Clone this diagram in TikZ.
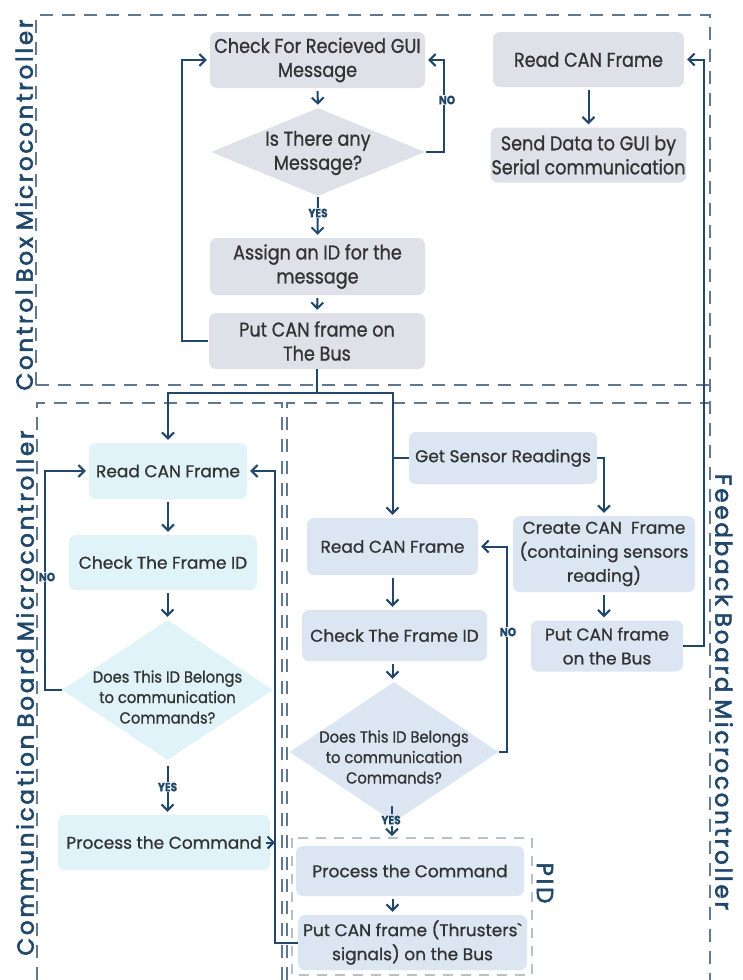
\documentclass[tikz,border=0pt]{standalone}
\usepackage{fontspec}
\setmainfont{Poppins}[FakeBold=0.9]
\newfontfamily\condf[FakeStretch=0.88,FakeBold=0.9]{Poppins}
\newfontfamily\dcondf[FakeStretch=0.92,FakeBold=0.9]{Poppins}
\newfontfamily\labf[LetterSpace=12,FakeBold=2.5]{Poppins}
\newcommand\wsp{\hspace{7pt}}
\usetikzlibrary{arrows.meta,shapes.geometric}
\definecolor{conn}{HTML}{21476B}
\definecolor{frm}{HTML}{61798F}
\definecolor{pidc}{HTML}{B8C1CA}
\definecolor{txt}{HTML}{333333}
\definecolor{cgray}{HTML}{DEE2E8}
\definecolor{ccyan}{HTML}{E0F3F8}
\definecolor{cblue}{HTML}{DBE6F2}
\begin{document}
\begin{tikzpicture}[x=1pt,y=-1pt,
  box/.style={rectangle, rounded corners=7pt, inner sep=1pt, align=center, text=txt},
  cbox/.style={box, fill=cgray, font=\condf\fontsize{20}{24}\selectfont},
  mbox/.style={box, fill=ccyan, font=\fontsize{17}{24}\selectfont},
  fbbox/.style={box, fill=cblue, font=\fontsize{17}{24}\selectfont},
  dia/.style={diamond, inner sep=0pt, aspect=1},
  dtxt/.style={align=center, text=txt, font=\dcondf\fontsize{16}{20.5}\selectfont},
  arr/.style={draw=conn, line width=2pt, -{Straight Barb[length=6pt,width=12pt]}, shorten >=3pt, shorten <=3pt},
  ln/.style={draw=conn, line width=2pt},
  yn/.style={text=conn, font=\condf\bfseries\fontsize{12}{12}\selectfont, fill=white, inner sep=1pt},
  frame/.style={draw=frm, line width=2.5pt, dash pattern=on 13pt off 9pt},
  pidframe/.style={draw=pidc, line width=2pt, dash pattern=on 10pt off 8pt},
  lab/.style={text=conn, inner sep=0pt, font=\labf\fontsize{23}{23}\selectfont}
]
\useasboundingbox (0,0) rectangle (742,980);

% frames
\draw[frame] (36,385) -- (36,15) -- (710,15) -- (710,980);
\draw[frame] (36,385) -- (710,385);
\draw[frame] (37,980) -- (37,403) -- (282,403) -- (282,980);
\draw[frame] (287,980) -- (287,403) -- (710,403);
\draw[pidframe] (292,838) rectangle (532,975);

% labels
\node[lab, rotate=90] (lcb) at (24,205) {Control\wsp Box\wsp Microcontroller};
\node[lab, rotate=90] (lcm) at (25,693) {Communication\wsp Board\wsp Microcontroller};
\node[lab, rotate=-90] (lfb) at (724,692) {Feedback\wsp Board\wsp Microcontroller};
\node[lab, rotate=-90] (lpid) at (545,883) {PID};

% control box
\node[cbox, minimum width=215, minimum height=56] (n1) at (317.5,60) {Check For Recieved GUI\\Message};
\node[dia, fill=cgray, minimum width=214, minimum height=88] (d1) at (318,152) {};
\node[dtxt, font=\condf\fontsize{20}{24}\selectfont] (d1t) at (318,153) {Is There any\\Message?};
\node[cbox, minimum width=215, minimum height=57] (n2) at (317.5,266.5) {Assign an ID for the\\message};
\node[cbox, minimum width=216, minimum height=56] (n3) at (317,341) {Put CAN frame on\\The Bus};
\node[cbox, minimum width=191, minimum height=55] (n4) at (588.5,59.5) {Read CAN Frame};
\node[cbox, minimum width=191, minimum height=55] (n5) at (588.5,155) {Send Data to GUI by\\Serial communication};

% communication board
\node[mbox, minimum width=158, minimum height=56] (c1) at (168,471) {Read CAN Frame};
\node[mbox, minimum width=188, minimum height=55] (c2) at (163,562.5) {Check The Frame ID};
\node[dia, fill=ccyan, minimum width=211, minimum height=140] (c3) at (167.5,690) {};
\node[dtxt] (c3t) at (167.5,697) {Does This ID Belongs\\to communication\\Commands?};
\node[mbox, minimum width=212, minimum height=55] (c4) at (164,842.5) {Process the Command};

% feedback board
\node[fbbox, minimum width=188, minimum height=52] (f0) at (503,458) {Get Sensor Readings};
\node[fbbox, minimum width=171, minimum height=57] (f1) at (392.5,546.5) {Read CAN Frame};
\node[fbbox, minimum width=185, minimum height=51] (f2) at (394.5,635.5) {Check The Frame ID};
\node[dia, fill=cblue, minimum width=209, minimum height=140] (f3) at (394,752) {};
\node[dtxt] (f3t) at (394,757) {Does This ID Belongs\\to communication\\Commands?};
\node[fbbox, minimum width=228, minimum height=50] (f4) at (410,871) {Process the Command};
\node[fbbox, minimum width=229, minimum height=55] (f5) at (412.5,942.5) {Put CAN frame (Thrusters\textasciigrave\\signals) on the Bus};
\node[fbbox, minimum width=182, minimum height=76] (f6) at (604,554) {Create CAN\ \ Frame\\(containing sensors\\reading)};
\node[fbbox, minimum width=152, minimum height=51] (f7) at (607,646) {Put CAN frame\\on the Bus};

\coordinate (vl) at (275,0);

% control box connectors
\draw[arr] (n1.south) -- (d1.north);
\draw[arr, shorten <=1pt] (d1.east) -- ++(19,0) |- (n1.east);
\node[yn] (no1) at (447,100) {NO};
\draw[arr, shorten <=1pt] (d1.south) -- (n2.north);
\node[yn] (yes1) at (318,213) {YES};
\draw[arr] (n2.south) -- (n3.north);
\draw[arr, shorten <=1pt] (n3.west) -- ++(-27,0) |- (n1.west);
\draw[arr] (n4.south) -- (n5.north);

% bus
\draw[arr, shorten <=0pt] (n3.south) -- ++(0,24) -| (c1.north);
\draw[arr, shorten <=0pt] (n3.south) -- ++(0,24) -| (f1.north);
\draw[ln] (f0.west) -- (f0.west -| f1.north);
\draw[arr, shorten <=0pt] (f0.east) -| (f6.north);
\draw[arr] (f6.south) -- (f6.south |- f7.north);
\draw[arr, shorten <=0pt] (f7.east) -- (704,646) |- (n4.east);

% communication connectors
\draw[arr] (c1.south) -- (c1.south |- c2.north);
\draw[arr] (c3.north |- c2.south) -- (c3.north);
\draw[arr, shorten <=0pt] (c3.west) -- ++(-17,0) |- (c1.west);
\node[yn] (no2) at (47,577) {NO};
\draw[arr, shorten <=6pt] (c3.south) -- (c3.south |- c4.north);
\node[yn] (yes2) at (167.5,787) {YES};
\draw[arr, shorten <=0pt, shorten >=0pt] ([xshift=-4pt]c4.east) -- (c4.east -| vl);
\draw[arr, shorten <=0pt] (f5.west) -- (f5.west -| vl) |- (c1.east);

% feedback connectors
\draw[arr] (f1.south) -- (f1.south |- f2.north);
\draw[arr] (f1.south |- f2.south) -- (f1.south |- f3.north);
\draw[arr, shorten <=0pt] (f3.east) -- ++(8,0) |- (f1.east);
\node[yn] (no3) at (508,632) {NO};
\draw[ln] (392,806) -- (392,814);
\node[yn, fill=none] (yes3) at (391,820) {YES};
\draw[arr, shorten <=0pt, shorten >=0pt] (392,826) -- (392,836);
\draw[arr] (f4.south -| f1.south) -- (f1.south |- f5.north);
\end{tikzpicture}
\end{document}
